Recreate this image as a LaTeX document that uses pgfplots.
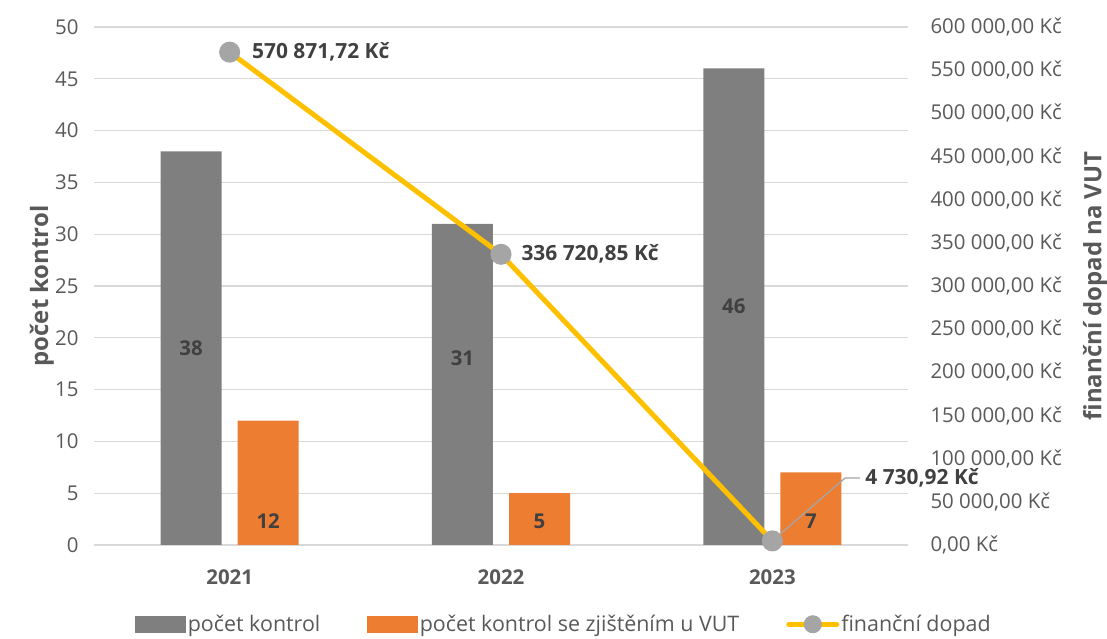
\documentclass[border=0pt]{standalone}
\usepackage{pgfplots}
\pgfplotsset{compat=1.18}
\usepackage{fontspec}
\setmainfont{Open Sans}
\definecolor{cgray}{HTML}{7F7F7F}
\definecolor{corange}{HTML}{ED7D31}
\definecolor{cyellow}{HTML}{FFC000}
\definecolor{cmark}{HTML}{A5A5A5}
\definecolor{ctext}{HTML}{595959}
\definecolor{cdark}{HTML}{404040}
\definecolor{cgrid}{HTML}{D9D9D9}
\begin{document}
\begin{tikzpicture}
\path[use as bounding box] (0,0) rectangle (1107bp,639bp);
\begin{axis}[
  at={(94bp,94bp)}, anchor=south west,
  scale only axis, width=814bp, height=518bp,
  xmin=-0.5, xmax=2.5, ymin=0, ymax=50,
  ytick={0,5,...,50},
  xtick={0,1,2}, xticklabels={2021,2022,2023},
  axis line style={draw=none},
  major tick length=0pt,
  ymajorgrids, grid style={cgrid, line width=1.3bp},
  /pgf/number format/assume math mode=true,
  yticklabel style={font=\fontsize{20.5}{24}\selectfont, text=ctext, xshift=-12bp},
  xticklabel style={font=\bfseries\fontsize{20.5}{24}\selectfont, text=ctext, yshift=-21bp},
  ylabel={počet kontrol},
  ylabel style={font=\bfseries\fontsize{24}{28}\selectfont, text=ctext, at={(axis description cs:-0.064,0.5)}, anchor=center},
  clip=false,
]
\addplot[ybar, bar width=0.225, bar shift=-0.142, fill=cgray, draw=none] coordinates {(0,38) (1,31) (2,46)};
\addplot[ybar, bar width=0.225, bar shift=0.142, fill=corange, draw=none] coordinates {(0,12) (1,5) (2,7)};
\begin{scope}[every node/.style={font=\bfseries\fontsize{20.5}{24}\selectfont, text=cdark}]
\node at (axis cs:-0.142,19) {38};
\node at (axis cs:0.858,18) {31};
\node at (axis cs:1.858,23) {46};
\node at (axis cs:0.142,2.3) {12};
\node at (axis cs:1.142,2.3) {5};
\node at (axis cs:2.142,2.3) {7};
\end{scope}
\end{axis}
\begin{axis}[
  at={(94bp,94bp)}, anchor=south west,
  scale only axis, width=814bp, height=518bp,
  xmin=-0.5, xmax=2.5, ymin=0, ymax=600000,
  axis x line=none, axis y line*=right,
  y axis line style={draw=none},
  major tick length=0pt,
  scaled y ticks=false,
  ytick={0,50000,...,600000},
  yticklabels={{0,00 Kč},{50 000,00 Kč},{100 000,00 Kč},{150 000,00 Kč},{200 000,00 Kč},{250 000,00 Kč},{300 000,00 Kč},{350 000,00 Kč},{400 000,00 Kč},{450 000,00 Kč},{500 000,00 Kč},{550 000,00 Kč},{600 000,00 Kč}},
  yticklabel style={font=\fontsize{20.5}{24}\selectfont, text=ctext, anchor=west, xshift=19bp},
  ylabel={finanční dopad na VUT},
  ylabel style={font=\bfseries\fontsize{24}{28}\selectfont, text=ctext, at={(axis description cs:1.2297,0.5)}, anchor=center, rotate=0},
  clip=false,
  legend columns=3,
  legend style={at={(axis description cs:0.5775,-0.153)}, anchor=center, draw=none, fill=none,
    font=\fontsize{21.5}{24}\selectfont, text=ctext, inner sep=1bp,
    /tikz/every even column/.append style={column sep=45bp}},
]
\addlegendimage{legend image code/.code={\fill[cgray] (0bp,-8bp) rectangle (50bp,8bp);}}
\addlegendentry{počet kontrol}
\addlegendimage{legend image code/.code={\fill[corange] (0bp,-8bp) rectangle (50bp,8bp);}}
\addlegendentry{počet kontrol se zjištěním u VUT}
\addplot[cyellow, line width=5bp, mark=*, mark size=8bp, mark options={fill=cmark, draw=cmark},
  legend image code/.code={\draw[cyellow, line width=5bp, line cap=round] (2bp,0bp) -- (50bp,0bp); \fill[cmark] (26bp,0bp) circle (6.5bp);}]
  coordinates {(0,570871.72) (1,336720.85) (2,4730.92)};
\addlegendentry{finanční dopad}
\draw[cmark, line width=1.3bp] (axis cs:2,4730.92) -- (axis cs:2.268,77606) -- (axis cs:2.323,77606);
\begin{scope}[every node/.style={font=\bfseries\fontsize{21}{24}\selectfont, text=cdark, anchor=west}]
\node at (axis cs:0,570871.72) [xshift=19bp] {570 871,72 Kč};
\node at (axis cs:1,336720.85) [xshift=17bp] {336 720,85 Kč};
\node at (axis cs:2.33,77606) {4 730,92 Kč};
\end{scope}
\end{axis}
\end{tikzpicture}
\end{document}
